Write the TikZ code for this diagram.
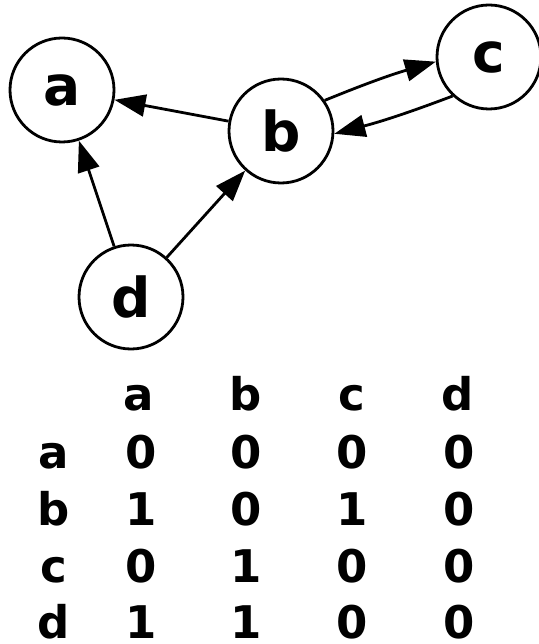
\documentclass[tikz,border=0pt]{standalone}
\usepackage{fontspec}
\setmainfont{DejaVu Sans}
\usetikzlibrary{arrows.meta}
\begin{document}
\begin{tikzpicture}[x=1pt,y=-1pt,
  vertex/.style={circle,draw,line width=2.8pt,minimum size=104pt,inner sep=0pt,
    font=\fontsize{55}{55}\selectfont\bfseries},
  edge/.style={line width=2.8pt,-{Triangle[length=31pt,width=22pt]}},
  cell/.style={anchor=base,inner sep=0pt,font=\fontsize{45}{45}\selectfont\bfseries}]
\useasboundingbox (0,0) rectangle (538,644);

% graph
\node[vertex] (a) at (62,90) {a};
\node[vertex] (b) at (281,131) {b};
\node[vertex] (c) at (489,57) {c};
\node[vertex] (d) at (131,297) {d};

\draw[edge] (b) -- (a);
\draw[edge] (d) -- (a);
\draw[edge] (d) -- (b);
\draw[edge] (b.35) to[bend left=3] (c.185);
\draw[edge] (c.227) to[bend left=3] (b.-3);

% adjacency matrix: column headers
\node[cell] (ha) at (139,410) {a};
\node[cell] (hb) at (246,410) {b};
\node[cell] (hc) at (352,410) {c};
\node[cell] (hd) at (458,410) {d};
% row labels
\node[cell] (ra) at (54,468) {a};
\node[cell] (rb) at (54,525) {b};
\node[cell] (rc) at (54,582) {c};
\node[cell] (rd) at (54,638) {d};
% entries
\node[cell] (aa) at (141,468) {0};
\node[cell] (ab) at (246,468) {0};
\node[cell] (ac) at (352,468) {0};
\node[cell] (ad) at (459,468) {0};
\node[cell] (ba) at (141,525) {1};
\node[cell] (bb) at (246,525) {0};
\node[cell] (bc) at (352,525) {1};
\node[cell] (bd) at (459,525) {0};
\node[cell] (ca) at (141,582) {0};
\node[cell] (cb) at (246,582) {1};
\node[cell] (cc) at (352,582) {0};
\node[cell] (cd) at (459,582) {0};
\node[cell] (da) at (141,638) {1};
\node[cell] (db) at (246,638) {1};
\node[cell] (dc) at (352,638) {0};
\node[cell] (dd) at (459,638) {0};
\end{tikzpicture}
\end{document}
